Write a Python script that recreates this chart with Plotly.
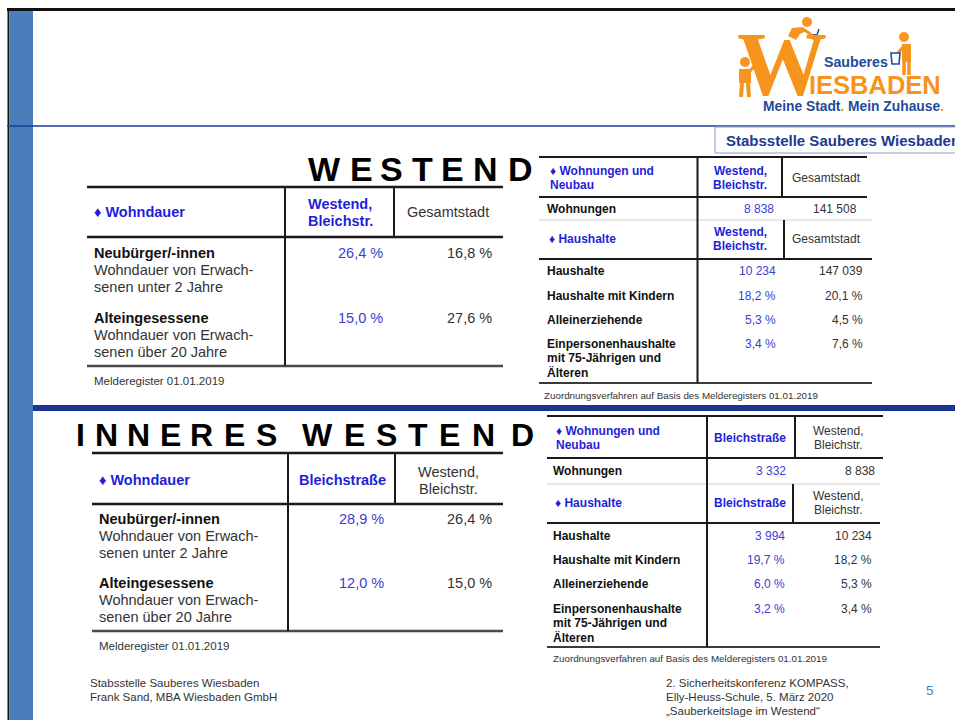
import plotly.graph_objects as go

W, H = 955, 720
SANS = "Liberation Sans, Arial, Helvetica, sans-serif"
SERIF = "Liberation Serif, Times New Roman, serif"

# ---------------- data ----------------
title_top = "WESTEND"
title_bottom = "INNERES WESTEND"

wohndauer_rows = ["Neubürger/-innen", "Alteingesessene"]
wohndauer_sub = [["Wohndauer von Erwach-", "senen unter 2 Jahre"],
                 ["Wohndauer von Erwach-", "senen über 20 Jahre"]]
westend_wohndauer = [26.4, 15.0]
gesamt_wohndauer = [16.8, 27.6]
bleich_wohndauer = [28.9, 12.0]

wohnungen_label = "Wohnungen"
westend_wohnungen = 8838
gesamt_wohnungen = 141508
bleich_wohnungen = 3332

haushalt_rows = [["Haushalte"], ["Haushalte mit Kindern"], ["Alleinerziehende"],
                 ["Einpersonenhaushalte", "mit 75-Jährigen und", "Älteren"]]
westend_haushalte = [10234, 18.2, 5.3, 3.4]
gesamt_haushalte = [147039, 20.1, 4.5, 7.6]
bleich_haushalte = [3994, 19.7, 6.0, 3.2]

hdr_westend = ["Westend,", "Bleichstr."]
hdr_gesamt = "Gesamtstadt"
hdr_bleich = "Bleichstraße"
sec_wohndauer = "♦ Wohndauer"
sec_wohnungen = ["♦ Wohnungen und", "Neubau"]
sec_haushalte = "♦ Haushalte"
src_melde = "Melderegister 01.01.2019"
src_zuord = "Zuordnungsverfahren auf Basis des Melderegisters 01.01.2019"

footer_left = ["Stabsstelle Sauberes Wiesbaden", "Frank Sand, MBA Wiesbaden GmbH"]
footer_right = ["2. Sicherheitskonferenz KOMPASS,", "Elly-Heuss-Schule, 5. März 2020",
                "„Sauberkeitslage im Westend“"]
page_no = "5"
stab_box = "Stabsstelle Sauberes Wiesbaden"


def fmt(v):
    if isinstance(v, int):
        return f"{v:,}".replace(",", " ")
    return f"{v:.1f}".replace(".", ",") + " %"


# ---------------- styles ----------------
BLUE_HDR = "#1f1fd8"
BLUE_VAL = "#3d3dd0"
BLACK = "#111111"
GREY = "#333333"
LINE = "#1a1a1a"
ORANGE = "#f7941d"
NAVY = "#1f4b9a"

shapes = []
ann = []


def L(x0, y0, x1, y1, color=LINE, w=2.2):
    shapes.append(dict(type="line", xref="x", yref="y", x0=x0, y0=y0, x1=x1, y1=y1,
                       line=dict(color=color, width=w)))


def R(x0, y0, x1, y1, fill, line_color=None, lw=0):
    shapes.append(dict(type="rect", xref="x", yref="y", x0=x0, y0=y0, x1=x1, y1=y1,
                       fillcolor=fill, line=dict(color=line_color or fill, width=lw)))


def C(cx, cy, r, fill):
    shapes.append(dict(type="circle", xref="x", yref="y", x0=cx - r, y0=cy - r, x1=cx + r, y1=cy + r,
                       fillcolor=fill, line=dict(width=0)))


def T(x, y, s, size=14.5, color=GREY, bold=False, anchor="left", family=SANS):
    ann.append(dict(x=x, y=y, xref="x", yref="y", text=f"<b>{s}</b>" if bold else s,
                    showarrow=False, xanchor=anchor, yanchor="middle", borderpad=0,
                    font=dict(size=size, color=color, family=family)))


# ---------------- slide frame ----------------
R(10, 10, 33, 720, "#4a7ebb")
L(7, 9.5, 955, 9.5, "#111111", 3)
L(8.5, 9, 8.5, 720, "#111111", 2)
L(7, 126, 955, 126, "#1f3c99", 1.5)
R(33, 405, 955, 411, "#1a3590")

# Stabsstelle box
shapes.append(dict(type="rect", xref="x", yref="y", x0=715, y0=127, x1=960, y1=153,
                   fillcolor="white", line=dict(color="#8c9ccc", width=1)))
T(725, 140.5, stab_box, 15, "#213a8f", True)

# ---------------- logo ----------------
T(782, 64, "W", 90, ORANGE, True, "center", SERIF)
T(823, 62, "Sauberes", 14.2, NAVY, True, "left")
T(808, 85, "IESBADEN", 25.5, ORANGE, True, "left")
T(762, 106, f"Meine Stadt<span style='color:{ORANGE}'>.</span> Mein Zuhause<span style='color:{ORANGE}'>.</span>",
  13.8, NAVY, True, "left")
# little figures
C(745, 62, 5, ORANGE)
R(739, 69, 751, 83, ORANGE)
L(742, 83, 741, 97, ORANGE, 4)
L(748, 83, 749, 97, ORANGE, 4)
L(750, 71, 757, 63, ORANGE, 3)
C(807, 22, 5, ORANGE)
shapes.append(dict(type="path", xref="x", yref="y",
                   path="M 788 36 L 792 28 L 803 27 L 806 31 L 800 34 L 796 40 Z",
                   fillcolor=ORANGE, line=dict(width=0)))
L(803, 29, 813, 36, ORANGE, 3)
C(815, 37, 3, NAVY)
L(817, 35, 819, 29, NAVY, 1.5)
C(904, 37, 5, ORANGE)
R(902, 44, 911, 62, ORANGE)
L(904, 62, 904, 75, ORANGE, 3.5)
L(909, 62, 909, 75, ORANGE, 3.5)
L(903, 47, 898, 53, ORANGE, 3)
shapes.append(dict(type="path", xref="x", yref="y",
                   path="M 891 53 L 900 53 L 899 64 L 892 64 Z",
                   fillcolor="white", line=dict(color=NAVY, width=1.6)))

# ---------------- titles (letter-spaced) ----------------
top_centers = [324, 361, 391, 422, 452, 485, 520]
bottom_centers = [80, 106, 138, 170, 201, 234, 266, 317, 354, 386, 418, 449, 483, 522]


def spaced_title(text, centers, y, size):
    letters = [c for c in text if c != " "]
    for ch, cx in zip(letters, centers):
        T(cx, y, ch, size, "#000000", True, "center")


spaced_title(title_top, top_centers, 169, 34)
spaced_title(title_bottom, bottom_centers, 435, 32)


# ---------------- left tables ----------------
def left_table(top, hb, bottom, x0, x1, v1, v2, lx, hy, col1_hdr, col1_bold, col2_hdr, col2_bold,
               c1x, c2x, row_y, v1r, v2r, vals1, vals2, src_y):
    L(x0, top, x1, top, LINE, 2.5)
    L(x0, hb, x1, hb, LINE, 2.5)
    L(x0, bottom, x1, bottom, "#4a4a4a", 2.5)
    L(v1, top, v1, bottom, LINE, 2)
    L(v2, top, v2, hb, LINE, 2)
    T(lx, hy, sec_wohndauer, 14.5, BLUE_HDR, True)
    for hdr, cx, bold in ((col1_hdr, c1x, col1_bold), (col2_hdr, c2x, col2_bold)):
        if isinstance(hdr, list):
            for i, line in enumerate(hdr):
                T(cx, hy - 8.5 + 17 * i, line, 14.5, BLUE_HDR if bold else GREY, bold, "center")
        else:
            T(cx, hy, hdr, 14.5, BLUE_HDR if bold else GREY, bold, "center")
    for i, lab in enumerate(wohndauer_rows):
        y = row_y[i]
        T(lx, y, lab, 14.5, BLACK, True)
        for j, sub in enumerate(wohndauer_sub[i]):
            T(lx, y + 17 * (j + 1), sub, 14.5, GREY)
        T(v1r, y, fmt(vals1[i]), 14.5, BLUE_VAL, False, "right")
        T(v2r, y, fmt(vals2[i]), 14.5, GREY, False, "right")
    T(lx, src_y, src_melde, 11.5, GREY)


left_table(187, 237, 366, 87, 503, 285, 394, 93, 212,
           hdr_westend, True, hdr_gesamt, False, 340, 448,
           [253, 318], 384, 493, westend_wohndauer, gesamt_wohndauer, 381)
left_table(453, 504, 631, 92, 503, 288, 395, 98, 480,
           hdr_bleich, True, hdr_westend, False, 342, 448,
           [519, 583], 385, 493, bleich_wohndauer, westend_wohndauer, 646)


# ---------------- right tables ----------------
def right_table(top, l1, gl, l2, bottom, x0, x1, x1b, v1, v2a, v2b,
                lx, h1y, c1x, c2x, col1_hdr, col1_bold, col2_hdr, col2_bold,
                wy, wv1, wv2, wr1, wr2, h2y, row_y, r1, r2, vals1, vals2, src_y, srcx):
    L(x0, top, x1, top, LINE, 2.2)
    L(x0, l1, x1, l1, LINE, 2.2)
    L(x0, gl, x1b, gl, "#d0d0d0", 1.2)
    L(x0, l2, x1b, l2, LINE, 2.2)
    L(x0, bottom, x1b, bottom, "#3a3a3a", 2.2)
    L(v1, top, v1, bottom, LINE, 2)
    L(v2a, top, v2a, l1, LINE, 2)
    L(v2b, gl, v2b, l2, LINE, 2)

    def hdr(hy):
        for hd, cx, bold in ((col1_hdr, c1x, col1_bold), (col2_hdr, c2x, col2_bold)):
            if isinstance(hd, list):
                for i, line in enumerate(hd):
                    T(cx, hy - 7 + 14 * i, line, 12, BLUE_HDR if bold else GREY, bold, "center")
            else:
                T(cx, hy, hd, 12, BLUE_HDR if bold else GREY, bold, "center")

    for i, line in enumerate(sec_wohnungen):
        T(lx, h1y - 7 + 14 * i, line, 12, BLUE_HDR, True)
    hdr(h1y)
    T(lx - 3, wy, wohnungen_label, 12, BLACK, True)
    T(wr1, wy, fmt(wv1), 12, BLUE_VAL, False, "right")
    T(wr2, wy, fmt(wv2), 12, GREY, False, "right")
    T(lx - 1, h2y, sec_haushalte, 12, BLUE_HDR, True)
    hdr(h2y)
    for i, lab in enumerate(haushalt_rows):
        y = row_y[i]
        for j, line in enumerate(lab):
            T(lx - 3, y + 14 * j, line, 12, BLACK, True)
        T(r1, y, fmt(vals1[i]), 12, BLUE_VAL, False, "right")
        T(r2, y, fmt(vals2[i]), 12, GREY, False, "right")
    T(srcx, src_y, src_zuord, 9.8, GREY)


right_table(157, 197, 220, 259, 383, 539, 867, 872, 697.5, 782, 784,
            549, 178, 740, 826, hdr_westend, True, hdr_gesamt, False,
            209, westend_wohnungen, gesamt_wohnungen, 775, 858,
            239, [271, 296, 320, 344], 777, 864,
            westend_haushalte, gesamt_haushalte, 395, 543)
right_table(416, 458, 484, 523, 647, 547, 883, 880, 707, 795, 793,
            555, 438, 750, 838, hdr_bleich, True, hdr_westend, False,
            471, bleich_wohnungen, westend_wohnungen, 787, 876,
            503, [536, 560, 584, 609], 786, 873,
            bleich_haushalte, westend_haushalte, 658, 552)

# ---------------- footer ----------------
for i, s in enumerate(footer_left):
    T(89, 683 + 13.5 * i, s, 11.5, "#333333", False, "left")
for i, s in enumerate(footer_right):
    T(665, 683 + 14 * i, s, 11.5, "#333333", False, "left")
T(930, 690, page_no, 13.5, "#4f81bd", False, "center")

fig = go.Figure(go.Scatter(x=[0], y=[0], mode="markers", marker=dict(opacity=0), hoverinfo="skip",
                           showlegend=False))
fig.update_layout(
    width=W, height=H, margin=dict(l=0, r=0, t=0, b=0),
    paper_bgcolor="white", plot_bgcolor="white",
    xaxis=dict(range=[0, W], visible=False, fixedrange=True),
    yaxis=dict(range=[H, 0], visible=False, fixedrange=True),
    shapes=shapes, annotations=ann, showlegend=False,
)
fig.write_html("out.html", config={"displayModeBar": False},
               post_script="document.body.style.margin='0px';document.body.style.overflow='hidden';")
